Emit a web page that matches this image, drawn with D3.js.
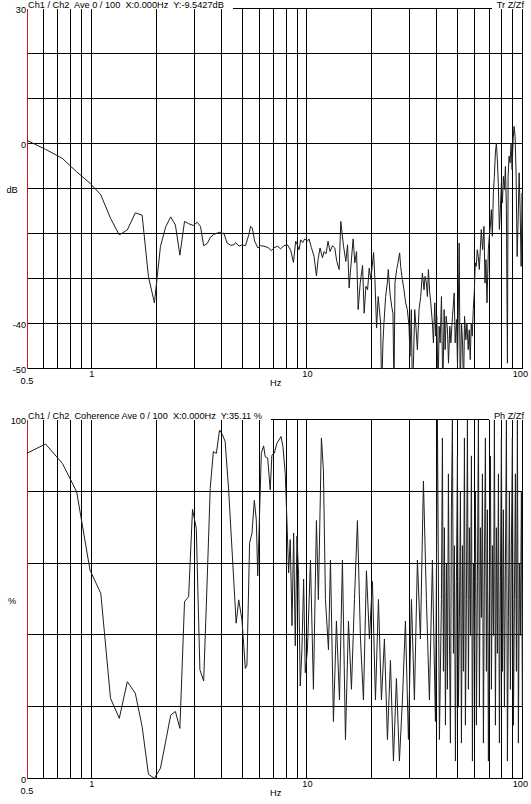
<!DOCTYPE html>
<html>
<head>
<meta charset="utf-8">
<script src="https://cdn.jsdelivr.net/npm/d3@7"></script>
<style>
  body { margin: 0; background: #fff; }
  svg { display: block; font-family: "Liberation Sans", Arial, sans-serif; font-size: 9.2px; }
  text { white-space: pre; }
</style>
</head>
<body>
<svg id="chart" width="531" height="804"></svg>
<script>
// Transfer function magnitude, [Hz, dB]. Values under -50 run off the plot.
var trData = [
  [0.49, 1.0], [0.61, -1.2], [0.73, -3.2], [0.85, -6.2], [0.98, -8.7], [1.10, -11.3],
  [1.22, -16.5], [1.34, -20.2], [1.46, -19.1], [1.59, -15.3], [1.71, -15.8], [1.83, -29.5],
  [1.95, -35.3], [2.08, -22.8], [2.20, -18.4], [2.32, -16.2], [2.44, -18.0], [2.56, -24.7],
  [2.69, -17.2], [2.81, -17.7], [2.95, -18.1], [3.08, -17.4], [3.19, -18.3], [3.30, -22.6],
  [3.43, -22.1], [3.55, -20.7], [3.68, -20.1], [3.81, -19.8], [3.92, -19.6], [4.02, -19.9],
  [4.09, -19.8], [4.24, -22.0], [4.40, -22.5], [4.56, -22.4], [4.64, -21.9], [4.81, -22.7],
  [4.98, -22.4], [5.16, -22.6], [5.35, -20.1], [5.45, -18.3], [5.55, -18.7], [5.69, -21.6],
  [5.89, -23.1], [6.06, -22.6], [6.28, -22.7], [6.56, -23.0], [6.80, -23.7], [6.99, -23.1],
  [7.25, -22.7], [7.51, -23.3], [7.78, -22.6], [8.07, -22.4], [8.36, -23.6], [8.61, -26.3],
  [8.82, -21.6], [8.98, -22.4], [9.14, -23.5], [9.31, -21.3], [9.51, -21.9], [9.71, -21.1],
  [10.0, -21.6], [10.17, -21.1], [10.43, -23.0], [10.73, -25.0], [11.01, -29.3], [11.2, -25.7],
  [11.44, -23.1], [11.74, -25.3], [11.94, -23.9], [12.2, -24.4], [12.46, -21.6], [12.73, -23.9],
  [13.07, -22.6], [13.39, -23.1], [13.68, -26.1], [14.03, -27.9], [14.28, -17.2], [14.7, -22.7],
  [15.07, -26.1], [15.35, -22.4], [15.61, -32.0], [15.9, -27.2], [16.29, -21.1], [16.59, -26.4],
  [16.9, -23.9], [17.19, -36.8], [17.57, -30.9], [18.02, -27.0], [18.33, -37.6], [18.67, -31.6],
  [19.01, -32.4], [19.34, -27.6], [19.69, -30.1], [20.27, -24.1], [20.56, -30.1], [20.93, -40.9],
  [21.29, -33.9], [21.85, -39.8], [22.09, -56], [22.40, -44.2], [22.64, -39.8], [23.05, -33.9],
  [23.47, -30.9], [23.72, -27.9], [24.15, -33.1], [24.58, -36.1], [24.93, -37.6], [25.20, -55],
  [25.47, -30.9], [25.93, -27.9], [26.30, -26.4], [26.78, -24.2], [27.07, -27.2], [27.55, -30.1],
  [28.05, -32.4], [28.55, -35.3], [29.07, -36.8], [29.59, -40.5], [29.91, -47.2], [30.34, -36.8],
  [30.67, -55], [31.00, -49.4], [31.45, -36.8], [31.79, -39.8], [32.36, -45.7], [32.94, -36.8],
  [33.53, -33.9], [34.14, -28.7], [34.75, -32.4], [35.13, -29.4], [35.63, -30.9], [36.01, -33.9],
  [36.40, -27.9], [36.93, -33.1], [37.33, -35.3], [38.00, -39.8], [38.41, -44.2], [38.96, -35.3],
  [39.38, -42.7], [39.81, -38.3], [40.38, -55], [40.82, -40.5], [41.26, -44.2], [41.85, -33.9],
  [42.46, -55], [43.07, -36.8], [43.53, -45.7], [44.00, -38.3], [44.63, -41.3], [45.12, -48.7],
  [45.77, -40.5], [46.26, -44.2], [47.09, -38.3], [47.94, -33.1], [48.46, -44.2], [49.16, -39.0],
  [49.69, -49.4], [50.58, -22.0], [51.13, -55], [51.86, -39.8], [52.42, -44.2], [52.99, -55],
  [53.56, -38.3], [54.33, -43.5], [54.92, -39.8], [55.71, -45.7], [56.31, -41.3], [56.92, -47.9],
  [57.53, -39.8], [58.15, -42.7], [58.78, -36.8], [59.41, -33.1], [60.06, -26.4], [60.70, -27.2],
  [61.36, -23.5], [62.02, -25.0], [62.69, -27.9], [63.37, -23.5], [64.05, -19.0], [64.97, -23.5],
  [65.91, -18.3], [66.63, -30.9], [67.34, -25.7], [68.07, -35.3], [69.06, -23.5], [69.80, -20.5],
  [70.55, -18.3], [71.31, -14.6], [72.08, -20.5], [72.86, -10.9], [73.65, -7.2], [74.44, -2.0],
  [75.24, 0.2], [76.05, -3.5], [76.87, -9.4], [77.70, -19.0], [78.54, -14.6], [79.39, -8.7],
  [80.25, -13.1], [81.11, -7.2], [81.99, -10.1], [82.87, -5.0], [83.76, -14.6], [84.67, -48.7],
  [85.27, -7.2], [86.19, -2.7], [87.12, -4.2], [88.06, 0.2], [89.01, -5.7], [89.97, 1.0],
  [90.94, 3.9], [91.92, 1.7], [92.92, -7.2], [93.92, -25.0], [94.93, -16.8], [95.95, -6.4],
  [96.99, -14.6], [98.04, -27.2], [99.09, -10.9], [100.16, -23.5]
];

// Coherence, [Hz, %].
var cohData = [
  [0.49, 90.5], [0.61, 93.3], [0.73, 87.9], [0.85, 80.0], [0.98, 58.2], [1.10, 51.7],
  [1.22, 22.5], [1.34, 16.9], [1.46, 27.1], [1.59, 23.9], [1.71, 14.6], [1.83, 1.3],
  [1.95, 0.2], [2.08, 3.0], [2.20, 10.5], [2.32, 17.8], [2.44, 18.8], [2.56, 14.1],
  [2.69, 49.4], [2.81, 50.8], [2.93, 75.1], [3.05, 69.8], [3.17, 30.4], [3.30, 27.3],
  [3.42, 54.0], [3.54, 81.0], [3.66, 91.2], [3.78, 90.7], [3.91, 97.2], [4.03, 96.0],
  [4.15, 94.0], [4.31, 80.5], [4.67, 43.4], [4.80, 49.9], [4.97, 44.3], [5.15, 30.8],
  [5.24, 31.7], [5.39, 65.7], [5.53, 68.5], [5.67, 77.6], [5.79, 72.2], [5.88, 56.6],
  [6.11, 90.7], [6.26, 92.8], [6.37, 89.8], [6.54, 89.4], [6.72, 80.5], [6.84, 90.2],
  [7.01, 90.7], [7.22, 93.5], [7.54, 95.4], [7.70, 92.5], [7.89, 85.1], [8.03, 72.2],
  [8.18, 57.4], [8.32, 66.7], [8.48, 42.7], [8.63, 68.5], [8.78, 37.1], [8.94, 67.6],
  [9.10, 56.6], [9.26, 25.9], [9.43, 36.2], [9.60, 55.7], [9.77, 29.6],
  [10.00, 36], [10.33, 61], [10.66, 25], [11.01, 72], [11.24, 50], [11.61, 95], [11.86, 86],
  [12.12, 50], [12.52, 36], [12.79, 61], [13.20, 16], [13.63, 44], [14.08, 22], [14.53, 61],
  [15.01, 11], [15.50, 44], [16.00, 25], [16.52, 50], [17.06, 72], [17.62, 39], [18.19, 22],
  [18.78, 58], [19.39, 39], [20.02, 55], [20.68, 22], [21.35, 50], [22.04, 22], [22.76, 39],
  [23.50, 11], [24.27, 33], [25.06, 5], [25.87, 28], [26.71, 5], [27.58, 22], [28.48, 44],
  [29.41, 11], [30.37, 50], [31.35, 22], [32.37, 61], [33.43, 39], [34.52, 83], [35.64, 50],
  [36.80, 22], [38.00, 61], [39.24, 16], [40.09, 100], [40.95, 11], [41.84, 50],
  [42.28, 95], [42.74, 30], [43.20, 70], [43.67, 15], [44.14, 60], [44.61, 25], [45.08, 85],
  [45.57, 40], [46.06, 10], [46.55, 75], [47.05, 100], [47.56, 35], [48.07, 65], [48.59, 5],
  [49.11, 55], [49.64, 90], [50.17, 20], [50.71, 45], [51.25, 80], [51.80, 10], [52.36, 65],
  [52.92, 30], [53.49, 95], [54.06, 15], [54.64, 50], [55.23, 100], [55.82, 25], [56.42, 70],
  [57.03, 40], [57.64, 90], [58.26, 5], [58.89, 60], [59.52, 35], [60.16, 80], [60.80, 15],
  [61.45, 55], [62.12, 100], [62.78, 20], [63.45, 70], [64.14, 45], [64.83, 85], [65.52, 10],
  [66.22, 60], [66.93, 95], [67.65, 30], [68.38, 75], [69.11, 5], [69.86, 50], [70.60, 90],
  [71.36, 25], [72.13, 65], [72.91, 40], [73.69, 100], [74.48, 15], [75.27, 70], [76.09, 35],
  [76.91, 85], [77.73, 10], [78.57, 55], [79.41, 95], [80.26, 30], [81.12, 75], [82.00, 20],
  [82.88, 60], [83.77, 100], [84.66, 5], [85.57, 45], [86.49, 80], [87.42, 25], [88.35, 65],
  [89.30, 95], [90.26, 15], [91.23, 50], [92.21, 85], [93.20, 30], [94.20, 100], [95.20, 10],
  [96.23, 60], [97.26, 40], [98.31, 80], [99.36, 20], [100.0, 55]
];

var gridFreqs = [0.6, 0.7, 0.8, 0.9, 1, 2, 3, 4, 5, 6, 7, 8, 9, 10, 20, 30, 40, 50, 60, 70, 80, 90, 100];
var trTicks = [30, 20, 10, 0, -10, -20, -30, -40, -50];
var trLabels = [30, 0, -40, -50];
var cohTicks = [100, 80, 60, 40, 20, 0];
var cohLabels = [100, 0];

var panels = [
  { id: 'tr', data: trData, top: 9, bottom: 369, domain: [-50, 30], ticks: trTicks, labels: trLabels,
    unit: 'dB', title: 'Ch1 / Ch2  Ave 0 / 100  X:0.000Hz  Y:-9.5427dB', tag: 'Tr Z/Zf' },
  { id: 'coh', data: cohData, top: 420, bottom: 779, domain: [0, 100], ticks: cohTicks, labels: cohLabels,
    unit: '%', title: 'Ch1 / Ch2  Coherence Ave 0 / 100  X:0.000Hz  Y:35.11 %', tag: 'Ph Z/Zf' }
];

var left = 27, right = 523;
var svg = d3.select('#chart');
var x = d3.scaleLog().domain([0.5, 100]).range([left, right]);

function crisp(v) { return Math.round(v) + 0.5; }

panels.forEach(function(p) {
  var y = d3.scaleLinear().domain(p.domain).range([p.bottom, p.top]);
  var g = svg.append('g');

  g.append('clipPath').attr('id', 'clip-' + p.id)
    .append('rect')
    .attr('x', left).attr('y', p.top)
    .attr('width', right - left).attr('height', p.bottom - p.top);

  // Title and tag go first so the top grid line can stop short of them.
  var title = g.append('text').attr('x', 28).attr('y', p.top - 1).text(p.title);
  var tag = g.append('text').attr('x', 524).attr('y', p.top - 1)
    .attr('text-anchor', 'end').text(p.tag);
  var titleEnd = 28 + title.node().getComputedTextLength();
  var tagStart = 524 - tag.node().getComputedTextLength();

  // Horizontal grid.
  g.selectAll('line.h')
    .data(p.ticks)
    .enter()
    .append('line')
    .attr('class', 'h')
    .attr('x1', function(d, i) { return i === 0 ? titleEnd + 9 : left; })
    .attr('x2', function(d, i) { return i === 0 ? tagStart - 5 : right; })
    .attr('y1', function(d) { return crisp(y(d)) - 1; })
    .attr('y2', function(d) { return crisp(y(d)) - 1; })
    .attr('stroke', '#000')
    .attr('shape-rendering', 'crispEdges');

  // Vertical grid.
  g.selectAll('line.v')
    .data(gridFreqs)
    .enter()
    .append('line')
    .attr('class', 'v')
    .attr('x1', function(d) { return crisp(x(d)) - 1; })
    .attr('x2', function(d) { return crisp(x(d)) - 1; })
    .attr('y1', p.top)
    .attr('y2', p.bottom)
    .attr('stroke', '#000')
    .attr('shape-rendering', 'crispEdges');

  // Red left axis.
  g.append('line')
    .attr('x1', left + 0.5).attr('x2', left + 0.5)
    .attr('y1', p.top).attr('y2', p.bottom)
    .attr('stroke', '#d01818')
    .attr('shape-rendering', 'crispEdges');

  var line = d3.line()
    .x(function(d) { return x(d[0]); })
    .y(function(d) { return y(d[1]); });

  g.append('path')
    .datum(p.data)
    .attr('clip-path', 'url(#clip-' + p.id + ')')
    .attr('d', line)
    .attr('fill', 'none')
    .attr('stroke', '#1e1e1e')
    .attr('stroke-width', 1);

  // Y labels.
  g.selectAll('text.yl')
    .data(p.labels)
    .enter()
    .append('text')
    .attr('class', 'yl')
    .attr('x', 26)
    .attr('y', function(d) { return y(d) + 3.5; })
    .attr('text-anchor', 'end')
    .text(function(d) { return d; });

  g.append('text')
    .attr('x', 12).attr('y', (p.top + p.bottom) / 2 + 4)
    .attr('text-anchor', 'middle')
    .text(p.unit);

  // Frequency labels.
  g.append('text').attr('x', x(0.5)).attr('y', p.bottom + 14.5)
    .attr('text-anchor', 'middle').text('0.5');
  g.append('text').attr('x', x(1)).attr('y', p.bottom + 8)
    .attr('text-anchor', 'middle').text('1');
  g.append('text').attr('x', x(10)).attr('y', p.bottom + 8)
    .attr('text-anchor', 'middle').text('10');
  g.append('text').attr('x', 528).attr('y', p.bottom + 8)
    .attr('text-anchor', 'end').text('100');
  g.append('text').attr('x', 270).attr('y', p.bottom + 17).text('Hz');
});
</script>
</body>
</html>
